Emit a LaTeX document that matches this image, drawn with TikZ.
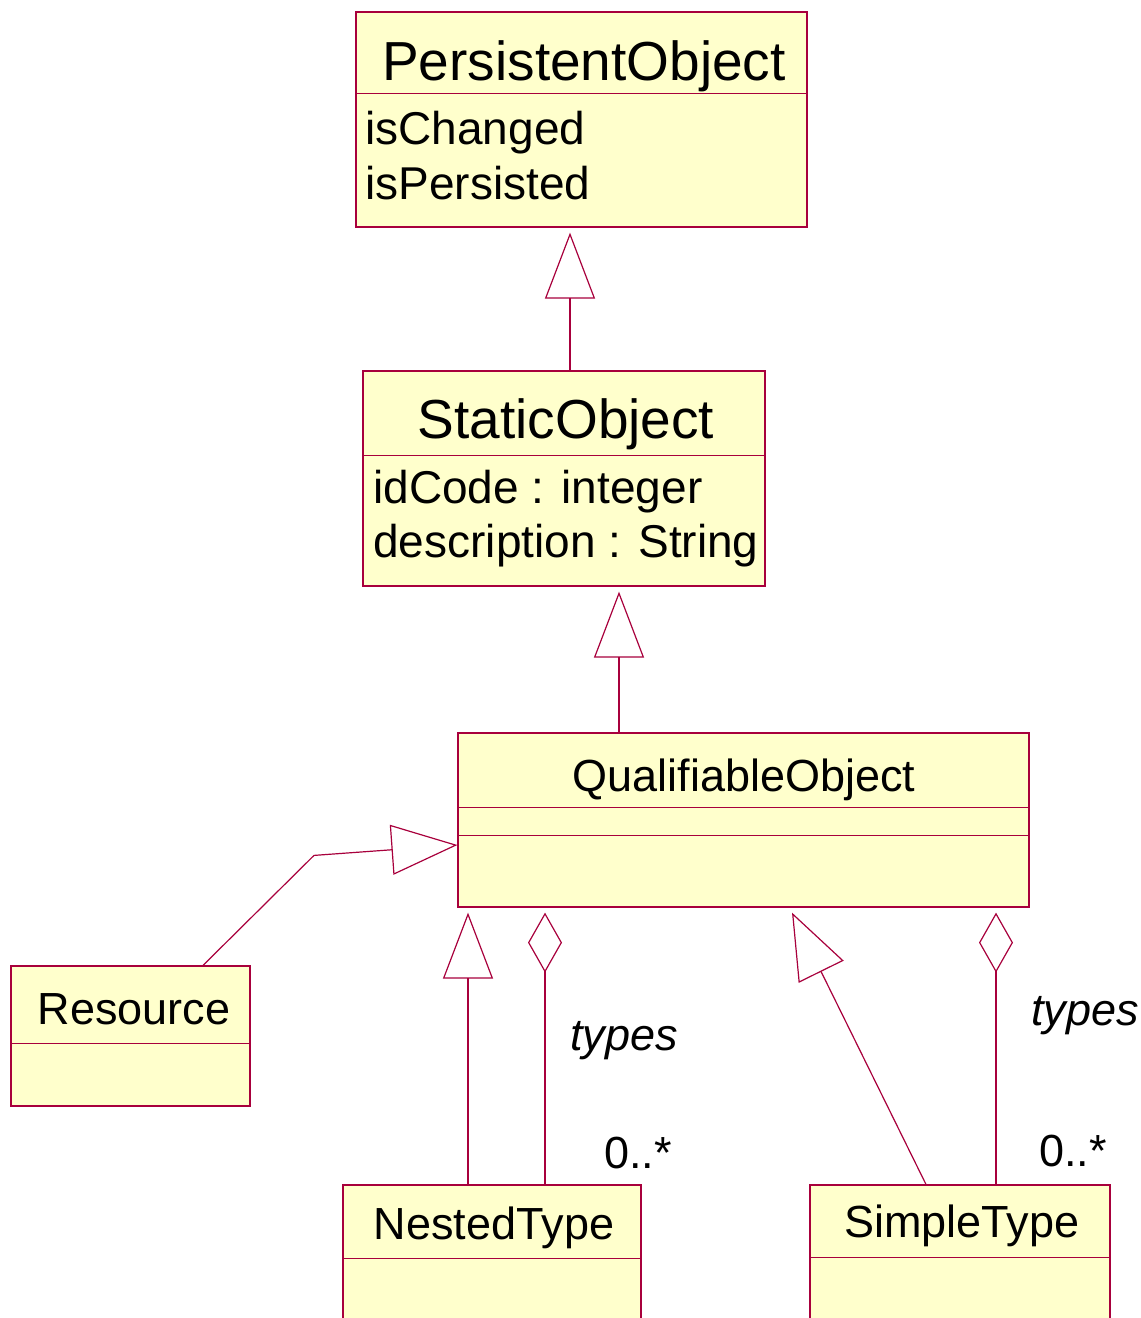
\documentclass[tikz,border=0pt]{standalone}
\usepackage{fontspec}
\setmainfont{Liberation Sans}
\usetikzlibrary{arrows.meta, fit}
\definecolor{umlred}{RGB}{168,0,60}
\definecolor{umlfill}{RGB}{255,255,204}
\tikzstyle{classbox} = [rectangle, draw=umlred, fill=umlfill, inner sep=0pt, line width=0.6pt]
\tikzstyle{bigname} = [anchor=base, inner sep=0pt, font=\fontsize{27.5}{30}\selectfont]
\tikzstyle{classname} = [anchor=base, inner sep=0pt, font=\fontsize{22.5}{25}\selectfont]
\tikzstyle{attr} = [anchor=base west, inner sep=0pt, font=\fontsize{23}{25}\selectfont]
\tikzstyle{role} = [anchor=base west, inner sep=0pt, font=\fontsize{22.5}{25}\selectfont]
\tikzstyle{divider} = [draw=umlred, line width=0.5pt]
\tikzstyle{inherit} = [draw=umlred, line width=0.6pt, -{Triangle[open, length=33pt, width=25pt]}]
\tikzstyle{aggregate} = [draw=umlred, line width=0.6pt, -{Diamond[open, length=30pt, width=17pt]}]

\begin{document}
\begin{tikzpicture}[x=0.5pt, y=-0.5pt]
\useasboundingbox (0,0) rectangle (1141,1318);

% classes
\node (persist) [classbox, fit={(356,12) (807,227)}] {};
\node (static) [classbox, fit={(363,371) (765,586)}] {};
\node (qual) [classbox, fit={(458,733) (1029,907)}] {};
\node (res) [classbox, fit={(11,966) (250,1106)}] {};
\node (nested) [classbox, fit={(343,1185) (641,1330)}] {};
\node (simple) [classbox, fit={(810,1185) (1110,1330)}] {};

% compartments
\draw[divider] (356,93) -- (807,93);
\draw[divider] (363,455) -- (765,455);
\draw[divider] (458,807) -- (1029,807);
\draw[divider] (458,835) -- (1029,835);
\draw[divider] (11,1043) -- (250,1043);
\draw[divider] (343,1258) -- (641,1258);
\draw[divider] (810,1257) -- (1110,1257);

% names and attributes
\node (persistname) [bigname] at (584,80) {PersistentObject};
\node (persista) [attr] at (365,144) {isChanged};
\node (persistb) [attr] at (365,199) {isPersisted};
\node (staticname) [bigname] at (566,438) {StaticObject};
\node (statica) [attr] at (373,503) {idCode : integer};
\node (staticb) [attr] at (373,557) {description : String};
\node (qualname) [classname] at (744,791) {QualifiableObject};
\node (resname) [classname] at (134,1024) {Resource};
\node (nestedname) [classname] at (494,1239) {NestedType};
\node (simplename) [classname] at (962,1237) {SimpleType};

% generalizations
\draw[inherit] ([shift={(6,0)}]static.north) -- ([shift={(-11.5,5)}]persist.south);
\draw[inherit] ([shift={(-124.5,0)}]qual.north) -- ([shift={(55,5)}]static.south);
\draw[inherit] ([shift={(72.5,0)}]res.north) -- ++(111,-110) -- ([shift={(0,25)}]qual.west);
\draw[inherit] ([shift={(-24,0)}]nested.north) -- ([shift={(-275.5,5)}]qual.south);
\draw[inherit] ([shift={(-34,0)}]simple.north) -- ([shift={(48.5,5)}]qual.south);

% aggregations
\draw[aggregate] ([shift={(53,0)}]nested.north) -- ([shift={(-198.5,5)}]qual.south);
\draw[aggregate] ([shift={(36,0)}]simple.north) -- ([shift={(252.5,5)}]qual.south);

% role names and multiplicities
\node (rolea) [role, font=\fontsize{22.5}{25}\selectfont\itshape] at (570,1050) {types};
\node (multa) [role] at (604,1168) {0..*};
\node (roleb) [role, font=\fontsize{22.5}{25}\selectfont\itshape] at (1031,1025) {types};
\node (multb) [role] at (1039,1166) {0..*};

\end{tikzpicture}
\end{document}
